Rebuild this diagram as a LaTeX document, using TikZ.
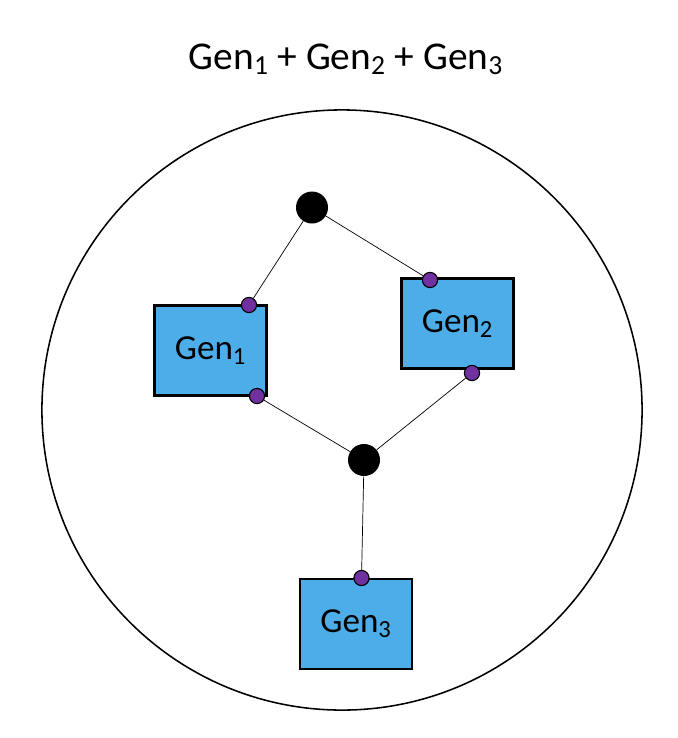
\documentclass[tikz,border=0pt]{standalone}
\usepackage{fontspec}
\setmainfont{Carlito}
\usepackage{tikz}
\usetikzlibrary{positioning}

\definecolor{genblue}{RGB}{76,173,232}
\definecolor{portpurple}{RGB}{112,48,160}

\begin{document}
\begin{tikzpicture}[x=0.025cm, y=-0.025cm,
    gen/.style={draw, line width=1.7pt, fill=genblue, minimum width=2.8cm, minimum height=2.25cm, inner sep=0pt, font=\fontsize{25}{30}\selectfont},
    port/.style={circle, draw, line width=0.8pt, fill=portpurple, minimum size=0.38cm, inner sep=0pt},
    hub/.style={circle, fill=black, minimum size=0.8cm, inner sep=0pt},
    wire/.style={line width=0.5pt}]

  \useasboundingbox (0, 0) rectangle (678, 738);

  \node[anchor=base, font=\fontsize{28}{32}\selectfont] (title) at (346, 69) {Gen\textsubscript{1} + Gen\textsubscript{2} + Gen\textsubscript{3}};

  \draw[line width=1.1pt] (342, 410) circle[radius=7.5cm];

  \node[gen] (gen1) at (210.5, 350.5) {Gen\textsubscript{1}};
  \node[gen] (gen2) at (457.5, 323.5) {Gen\textsubscript{2}};
  \node[gen] (gen3) at (356, 624) {Gen\textsubscript{3}};

  \node[hub] (top) at (312, 207.5) {};
  \node[hub] (mid) at (364, 460) {};

  \node[port] (g1in) at (249, 305) {};
  \node[port] (g1out) at (257, 396) {};
  \node[port] (g2in) at (430, 280) {};
  \node[port] (g2out) at (472, 373) {};
  \node[port] (g3in) at (361.5, 578) {};

  \draw[wire] (top) -- (g1in);
  \draw[wire] (top) -- (g2in);
  \draw[wire] (g1out) -- (mid);
  \draw[wire] (g2out) -- (mid);
  \draw[wire] (mid) -- (g3in);

\end{tikzpicture}
\end{document}
